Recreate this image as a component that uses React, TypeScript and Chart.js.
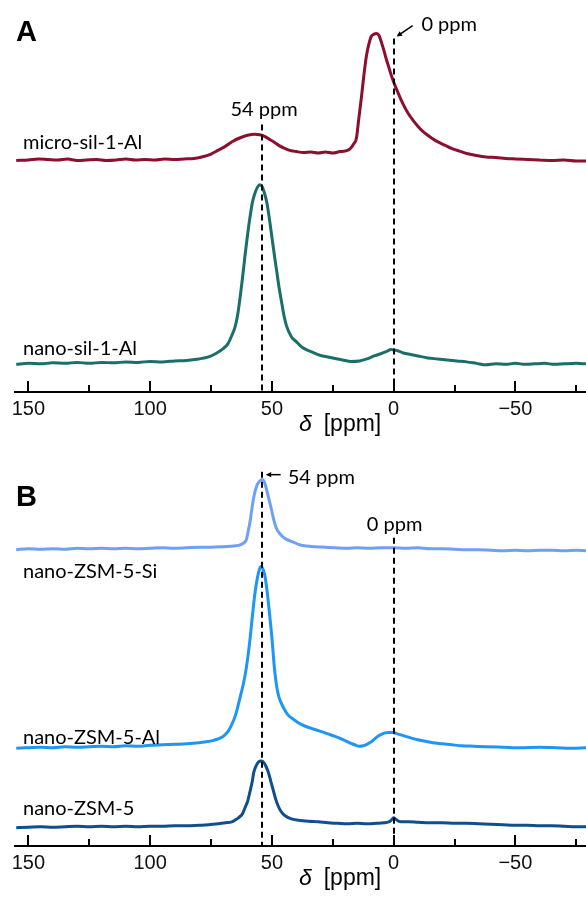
import React, { useEffect, useRef } from 'react';
import { Chart, registerables } from 'chart.js';

Chart.register(...registerables);

// ---- axis ----
const PPM_TICKS = [150, 125, 100, 75, 50, 25, 0, -25, -50, -75];
const X_MIN = -79;
const X_MAX = 155.5;

// ---- Panel A : micro-sil-1-Al ----
const microPpm = [155,150,146,142,138,134,130,126,122,118,114,110,106,102,98,94,90,86,82,78,75,72,69,66,63,60,57,55,53,51,49,47,45,43,40,37,34,31,28,25,22,20,18,16.5,15.3,14.3,13.3,12.3,11.2,10.2,9.2,8,7,6,5,4,3,2,1,0,-2,-4,-6,-8,-10,-12,-14,-16,-18,-21,-24,-27,-30,-34,-38,-42,-46,-50,-55,-60,-65,-70,-75,-79];
const microInt = [-0.5,0,1,0.5,0,1,-0.5,0,0.5,-0.5,0,1,0,0.5,0,1,0.5,1,1.5,3.5,6,10,14,19,22.5,25,26,25.5,24,21,18,14.5,12,10,8.5,7.5,8,7,8,7,8.5,9,11,16,22,42,62,84,105,117,125,127.5,128,126,119,111,102,94,86,79,67,56,47,40,34,29,25,21.5,18.5,15,11.5,9,6.5,4.5,3,2.5,1.5,1,0.5,0,-0.5,0,-1,-1];
const MICRO_OFFSET = 235;

// ---- Panel A : nano-sil-1-Al ----
const nanoSilPpm = [155,150,145,140,135,130,125,120,115,110,105,100,95,90,85,80,76,73,70,68,66.5,65,64,63,62,61,60,59,58,57,56,55,54,53,52,51,50,49,48,47,46,45,44,42,40,37.5,34,30,27,24,21,17.5,14,11,8,5,3,1,0,-2,-4,-7,-10,-14,-18,-22,-26,-30,-34,-38,-42,-46,-50,-54,-58,-62,-66,-70,-75,-79];
const nanoSilInt = [0,1,0.5,1.5,1,2,1,2,1.5,2.5,2,3,2.5,3.5,4,5.5,7.5,11,16,21,29,39,51,69,89,111,131,149,164,173,179,182,180,173,163,147,129,111,94,77,63,49,39,28,23,17,13,9,7.5,6,4.5,3,3.5,5.5,8.5,11,13,15,14.5,13.5,11.5,10,8.5,6.5,5.5,4.5,3.5,2.5,1,-0.5,0.5,0,1,0,0.5,1,0,0.5,1,0.5];
const NANO_SIL_OFFSET = 28;

// ---- Panel B : nano-ZSM-5-Si ----
const zsmSiPpm = [155,150,145,140,135,130,125,120,115,110,105,100,95,90,85,80,75,70,67,65,63,61.5,60.5,59.8,59,58.3,57.6,56.8,56,55,54,53,52.3,51.2,50.2,49.2,48.2,47,45.5,44,41,38.6,35.8,32,28,24,19,15,10,5,0,-5,-10,-15,-20,-25,-30,-35,-40,-45,-50,-55,-60,-65,-70,-75,-79];
const zsmSiInt = [0,1,0.5,1,0.5,1.5,1,1.5,1,1.5,1,1.5,2,1.5,2,2.5,2.5,3,3.5,4,5,7,10,18,28,40,51,60,66,69.5,71,68,62,51,41,30,22,17,13,10.5,7.5,5,3.7,3,2.5,2,1.5,2,1.5,2,2,1.5,2,1,1,0.5,0,0,-0.5,-1,-0.5,-1,-0.5,-0.5,-1,-0.5,-1];
const ZSM_SI_OFFSET = 300;

// ---- Panel B : nano-ZSM-5-Al ----
const zsmAlPpm = [155,150,145,140,135,130,125,120,115,110,105,100,95,90,85,80,77,74,71.5,69.5,68,66.5,65,64,63,62,61,60,59,58,57,56,55,54.5,54,53,52,51,50,49,48,47,46,45,43.5,41,39,36,33,30,27,24,21,18,16,14,12.5,11,9.5,8,6.5,5,3.5,2,0.5,-1,-3,-5,-7,-10,-13,-16,-20,-24,-28,-33,-38,-45,-52,-60,-67,-73,-79];
const zsmAlInt = [0,0.5,1,0.5,1.5,1,1.5,2,1.5,2.5,2,3,3.5,4,4.5,5.5,6.5,8,10,13,17,24,33,42,52,62,74,90,110,134,156,172,182,184,183,176,160,137,112,82,62,51,45,40,34,29,25.5,22,19.5,17,14.5,12,9,5.5,3.5,2,2.5,4,6,9,12,14,15.5,16,16,15,13.5,12,10.5,8.5,7,5.5,4.5,3.5,2.5,2,1.5,1,0.5,1,0.5,0,0.5];
const ZSM_AL_OFFSET = 99;

// ---- Panel B : nano-ZSM-5 ----
const zsmPpm = [155,150,145,140,135,130,125,120,115,110,105,100,95,90,85,80,76,72,69,66.5,65,63.5,62,61,60,59,58,57.5,56.5,55.5,54.5,53.5,52.5,51.5,50.5,49.5,48.5,47.5,46.5,45,43.5,42,39,35,31,27,23,19,15,11,7,4,2,1,0,-0.7,-1.7,-3,-6,-10,-15,-20,-25,-30,-35,-40,-45,-50,-55,-60,-65,-70,-75,-79];
const zsmInt = [-0.5,0,0.5,0,0.5,1,0.5,1,0.5,1,0.5,1,1,1.5,1.5,2,2.5,3.5,4.5,5.5,7.5,10,14,20,26,36,47,55,62,66,67,66,62,56,47,38,29,22,17,12.5,10,8.5,7,6,5.5,4.5,4,3.5,4,3.5,4,4.5,5.5,7,9.5,8.5,6.5,5.5,5.5,5,4.5,4.5,4,4,3.5,3,2.5,2,2,1.5,1.5,1,0.5,0.5];
const ZSM_OFFSET = 19;

const LABEL_FONT = '20px Lato, "Open Sans", sans-serif';

function pts(ppm: number[], inten: number[], offset: number) {
  return ppm.map((x, i) => ({ x, y: offset + inten[i] }));
}

type TextAnn = { text: string; ppm?: number; dx?: number; y: number; font?: string; align?: CanvasTextAlign };
type PanelCfg = {
  letter: string;
  letterY: number;
  markers: { ppm: number; top: number }[];
  texts: TextAnn[];
  arrows: { x1: number; y1: number; x2: number; y2: number }[];
};

function makeOverlay(cfg: PanelCfg) {
  return {
    id: 'nmrOverlay',
    afterDatasetsDraw(chart: any) {
      const { ctx, chartArea } = chart;
      const xs = chart.scales.x;
      const ys = chart.scales.y;
      ctx.save();
      ctx.strokeStyle = '#000';
      ctx.fillStyle = '#000';
      ctx.lineWidth = 2;
      // inward tick marks
      for (const v of PPM_TICKS) {
        const px = Math.round(xs.getPixelForValue(v));
        const len = v % 50 === 0 ? 11 : 7;
        ctx.beginPath();
        ctx.moveTo(px, chartArea.bottom);
        ctx.lineTo(px, chartArea.bottom - len);
        ctx.stroke();
      }
      // dashed reference lines
      ctx.setLineDash([6, 4]);
      for (const m of cfg.markers) {
        const px = Math.round(xs.getPixelForValue(m.ppm));
        ctx.beginPath();
        ctx.moveTo(px, ys.getPixelForValue(m.top));
        ctx.lineTo(px, chartArea.bottom);
        ctx.stroke();
      }
      ctx.setLineDash([]);
      // arrows
      ctx.lineWidth = 1.5;
      for (const a of cfg.arrows) {
        const x1 = xs.getPixelForValue(a.x1), y1 = ys.getPixelForValue(a.y1);
        const x2 = xs.getPixelForValue(a.x2), y2 = ys.getPixelForValue(a.y2);
        const ang = Math.atan2(y2 - y1, x2 - x1);
        const hl = 6;
        ctx.beginPath();
        ctx.moveTo(x1, y1);
        ctx.lineTo(x2 - Math.cos(ang) * 3, y2 - Math.sin(ang) * 3);
        ctx.stroke();
        ctx.beginPath();
        ctx.moveTo(x2, y2);
        ctx.lineTo(x2 - hl * Math.cos(ang - 0.45), y2 - hl * Math.sin(ang - 0.45));
        ctx.lineTo(x2 - hl * Math.cos(ang + 0.45), y2 - hl * Math.sin(ang + 0.45));
        ctx.closePath();
        ctx.fill();
      }
      // texts
      ctx.textBaseline = 'alphabetic';
      for (const t of cfg.texts) {
        ctx.font = t.font || LABEL_FONT;
        ctx.textAlign = t.align || 'left';
        const px = t.ppm !== undefined ? xs.getPixelForValue(t.ppm) : chartArea.left + (t.dx || 0);
        ctx.fillText(t.text, px, ys.getPixelForValue(t.y));
      }
      // panel letter
      ctx.font = 'bold 29px "Liberation Sans", Arial, sans-serif';
      ctx.textAlign = 'left';
      ctx.fillText(cfg.letter, chartArea.left + 1, ys.getPixelForValue(cfg.letterY));
      // axis title: italic delta + [ppm]
      const ty = chartArea.bottom + 39;
      const cx = xs.getPixelForValue(22);
      ctx.font = 'italic 23px "Liberation Sans", Arial, sans-serif';
      const wd = ctx.measureText('\u03b4').width;
      ctx.font = '23px "Liberation Sans", Arial, sans-serif';
      const wp = ctx.measureText('[ppm]').width;
      const gap = 12;
      const start = cx - (wd + gap + wp) / 2;
      ctx.font = 'italic 23px "Liberation Sans", Arial, sans-serif';
      ctx.fillText('\u03b4', start, ty);
      ctx.font = '23px "Liberation Sans", Arial, sans-serif';
      ctx.fillText('[ppm]', start + wd + gap, ty);
      ctx.restore();
    },
  };
}

function ds(label: string, data: { x: number; y: number }[], color: string) {
  return {
    label,
    data,
    borderColor: color,
    backgroundColor: color,
    borderWidth: 3,
    pointRadius: 0,
    fill: false,
    cubicInterpolationMode: 'monotone' as const,
  };
}

function makeConfig(datasets: any[], yMax: number, bottomPad: number, cfg: PanelCfg) {
  return {
    type: 'line' as const,
    data: { datasets },
    options: {
      responsive: false,
      animation: false as const,
      layout: { padding: { left: 15, right: 0, top: 0, bottom: bottomPad } },
      plugins: { legend: { display: false }, tooltip: { enabled: false } },
      scales: {
        x: {
          type: 'linear' as const,
          reverse: true,
          min: X_MIN,
          max: X_MAX,
          afterBuildTicks: (axis: any) => {
            axis.ticks = PPM_TICKS.map((v) => ({ value: v }));
          },
          grid: { display: true, drawOnChartArea: false, drawTicks: false },
          border: { display: true, color: '#000', width: 2 },
          ticks: {
            autoSkip: false,
            maxRotation: 0,
            padding: 5,
            color: '#111',
            font: { family: '"Liberation Sans", Arial, sans-serif', size: 20 },
            callback: (v: any) => {
              const n = Number(v);
              if (n % 50 !== 0) return '';
              return n < 0 ? '\u2212' + Math.abs(n) : String(n);
            },
          },
        },
        y: { display: false, min: 0, max: yMax },
      },
    },
    plugins: [makeOverlay(cfg)],
  };
}

const panelA: PanelCfg = {
  letter: 'A',
  letterY: 355,
  markers: [
    { ppm: 54, top: 271 },
    { ppm: 0, top: 358 },
  ],
  texts: [
    { text: 'micro-sil-1-Al', dx: 8, y: 246 },
    { text: 'nano-sil-1-Al', dx: 8, y: 37 },
    { text: '54 ppm', ppm: 67, y: 280 },
    { text: '0 ppm', ppm: -11.4, y: 366 },
  ],
  arrows: [{ x1: -7.8, y1: 371, x2: -1.2, y2: 360 }],
};

const panelB: PanelCfg = {
  letter: 'B',
  letterY: 344,
  markers: [
    { ppm: 54, top: 379 },
    { ppm: 0, top: 312 },
  ],
  texts: [
    { text: 'nano-ZSM-5-Si', dx: 8, y: 271 },
    { text: 'nano-ZSM-5-Al', dx: 8, y: 103 },
    { text: 'nano-ZSM-5', dx: 8, y: 31 },
    { text: '54 ppm', ppm: 43.5, y: 367 },
    { text: '0 ppm', ppm: 11, y: 319 },
  ],
  arrows: [{ x1: 46.4, y1: 376, x2: 52.5, y2: 376 }],
};

export default function App() {
  const refA = useRef<HTMLCanvasElement>(null);
  const refB = useRef<HTMLCanvasElement>(null);

  useEffect(() => {
    const chartA = new Chart(
      refA.current as HTMLCanvasElement,
      makeConfig(
        [
          ds('micro-sil-1-Al', pts(microPpm, microInt, MICRO_OFFSET), '#8b0f2e'),
          ds('nano-sil-1-Al', pts(nanoSilPpm, nanoSilInt, NANO_SIL_OFFSET), '#1b6f6b'),
        ],
        397,
        22,
        panelA
      ) as any
    );
    const chartB = new Chart(
      refB.current as HTMLCanvasElement,
      makeConfig(
        [
          ds('nano-ZSM-5-Si', pts(zsmSiPpm, zsmSiInt, ZSM_SI_OFFSET), '#6fa0f5'),
          ds('nano-ZSM-5-Al', pts(zsmAlPpm, zsmAlInt, ZSM_AL_OFFSET), '#1e96f5'),
          ds('nano-ZSM-5', pts(zsmPpm, zsmInt, ZSM_OFFSET), '#104f8f'),
        ],
        403,
        17,
        panelB
      ) as any
    );
    return () => {
      chartA.destroy();
      chartB.destroy();
    };
  }, []);

  return (
    <div style={{ position: 'absolute', left: 0, top: 0, width: 586, height: 897, background: '#fff' }}>
      <canvas ref={refA} width={586} height={448} style={{ display: 'block', position: 'absolute', left: 0, top: 0 }} />
      <canvas ref={refB} width={586} height={449} style={{ display: 'block', position: 'absolute', left: 0, top: 448 }} />
    </div>
  );
}
